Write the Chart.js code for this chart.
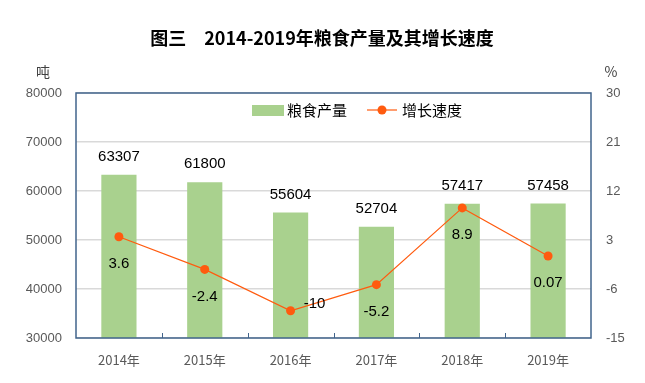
<!DOCTYPE html>
<html><head><meta charset="utf-8">
<script src="https://cdn.jsdelivr.net/npm/chart.js@4"></script>
<style>html,body{margin:0;padding:0;background:#fff}canvas{display:block}</style>
</head><body>
<canvas id="c" width="645" height="383"></canvas>
<script>
const categories = ['2014年','2015年','2016年','2017年','2018年','2019年'];
const production = [63307, 61800, 55604, 52704, 57417, 57458];
const growth = [3.6, -2.4, -10, -5.2, 8.9, 0.07];
const leftTicks = [30000,40000,50000,60000,70000,80000];
const rightTicks = [-15,-6,3,12,21,30];
const titleText = '图三　2014-2019年粮食产量及其增长速度';
const seriesNames = ['粮食产量','增长速度'];
const leftUnit = '吨', rightUnit = '%';

const BAR = '#A9D18E', LINE = '#FF5B0F', BORDER = '#41648C';
const CJK = '"Noto Sans CJK SC", "Liberation Sans", sans-serif';

const deco = {
  id: 'deco',
  afterDraw(chart) {
    const ctx = chart.ctx, a = chart.chartArea;
    ctx.save();
    ctx.strokeStyle = BORDER; ctx.lineWidth = 1.5;
    ctx.strokeRect(a.left, a.top, a.right - a.left, a.bottom - a.top);
    const xs = chart.scales.x;
    ctx.lineWidth = 1;
    for (let i = 1; i < categories.length; i++) {
      const x = Math.round((xs.getPixelForValue(i - 1) + xs.getPixelForValue(i)) / 2) + 0.5;
      ctx.beginPath(); ctx.moveTo(x, a.bottom); ctx.lineTo(x, a.bottom - 5); ctx.stroke();
    }
    ctx.fillStyle = '#000';
    ctx.font = 'bold 18px ' + CJK;
    ctx.textAlign = 'center'; ctx.textBaseline = 'middle';
    ctx.fillText(titleText, 322, 38);
    ctx.font = '14px ' + CJK; ctx.fillStyle = '#404040';
    ctx.fillText(leftUnit, 43, 72);
    ctx.fillText(rightUnit, 611, 72);
    ctx.fillStyle = BAR; ctx.fillRect(252, 105, 32, 11);
    ctx.font = '15px ' + CJK; ctx.fillStyle = '#000'; ctx.textAlign = 'left';
    ctx.fillText(seriesNames[0], 287, 110);
    ctx.strokeStyle = LINE; ctx.lineWidth = 1.2;
    ctx.beginPath(); ctx.moveTo(367, 110); ctx.lineTo(397, 110); ctx.stroke();
    ctx.fillStyle = LINE; ctx.beginPath(); ctx.arc(382, 110, 4.5, 0, Math.PI * 2); ctx.fill();
    ctx.fillStyle = '#000';
    ctx.fillText(seriesNames[1], 402, 110);
    ctx.font = '15px "Liberation Sans", sans-serif'; ctx.textAlign = 'center';
    const bm = chart.getDatasetMeta(0).data;
    bm.forEach((el, i) => ctx.fillText(String(production[i]), el.x, el.y - 18));
    const lm = chart.getDatasetMeta(1).data;
    lm.forEach((el, i) => {
      if (growth[i] === -10) ctx.fillText(String(growth[i]), el.x + 24, el.y - 7);
      else ctx.fillText(String(growth[i]), el.x, el.y + 27);
    });
    ctx.restore();
  }
};

new Chart(document.getElementById('c'), {
  data: {
    labels: categories,
    datasets: [
      { type: 'bar', label: seriesNames[0], data: production, backgroundColor: BAR,
        yAxisID: 'y', categoryPercentage: 1, barPercentage: 0.41, order: 2 },
      { type: 'line', label: seriesNames[1], data: growth, borderColor: LINE, backgroundColor: LINE,
        borderWidth: 1.2, pointRadius: 4.5, pointHoverRadius: 4.5, pointBackgroundColor: LINE,
        pointBorderWidth: 0, yAxisID: 'y1', order: 1, tension: 0 }
    ]
  },
  options: {
    responsive: false, animation: false,
    layout: { padding: { top: 93, left: 0, right: 0, bottom: 0 } },
    plugins: { legend: { display: false }, title: { display: false }, tooltip: { enabled: false } },
    scales: {
      x: {
        grid: { display: false, drawTicks: false },
        border: { display: false },
        ticks: { color: '#595959', font: { size: 13, family: CJK }, padding: 14 },
        afterFit(s) { s.height = 45; }
      },
      y: {
        position: 'left', min: 30000, max: 80000,
        afterBuildTicks(s) { s.ticks = leftTicks.map(v => ({ value: v })); },
        grid: { color: '#D9D9D9', lineWidth: 1.5, drawTicks: false },
        border: { display: false },
        ticks: { color: '#595959', font: { size: 13, family: '"Liberation Sans", sans-serif' }, padding: 14,
                 callback: v => String(v) },
        afterFit(s) { s.width = 76; }
      },
      y1: {
        position: 'right', min: -15, max: 30,
        afterBuildTicks(s) { s.ticks = rightTicks.map(v => ({ value: v })); },
        grid: { display: false, drawTicks: false },
        border: { display: false },
        ticks: { color: '#595959', font: { size: 13, family: '"Liberation Sans", sans-serif' }, padding: 15,
                 callback: v => String(v) },
        afterFit(s) { s.width = 54; }
      }
    }
  },
  plugins: [deco]
});
</script>
</body></html>
